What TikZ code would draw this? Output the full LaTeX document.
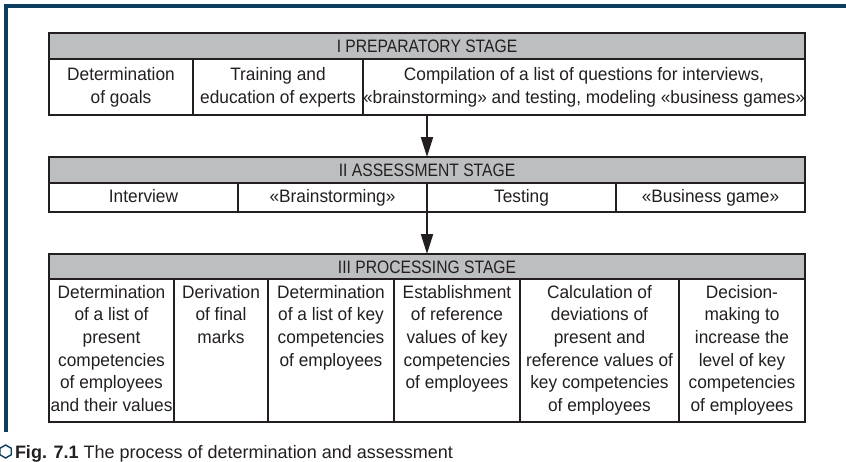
\documentclass[tikz,border=0pt]{standalone}
\usepackage{fontspec}
\setmainfont{Liberation Sans}
\newfontfamily\hdrfont{Liberation Sans}[FakeStretch=0.87]
\newfontfamily\cellfont{Liberation Sans}[FakeStretch=0.96]
\usetikzlibrary{arrows.meta,shapes.geometric}
\definecolor{ink}{HTML}{231F20}
\definecolor{hdr}{HTML}{BCBEC0}
\definecolor{frameblue}{HTML}{0C3C5E}
\newcommand{\tcell}[2]{\parbox[c][131pt][t]{#1}{\centering #2}}
\begin{document}
\begin{tikzpicture}[x=1pt,y=-1pt,
  every node/.style={inner sep=0pt, outer sep=0pt, text=ink, font=\fontsize{18}{22.7}\selectfont},
  box/.style={draw=ink, line width=1.5pt, rectangle, anchor=north west},
  hdrbox/.style={box, fill=hdr, minimum width=756pt, text height=13pt, text depth=0pt, font=\fontsize{18}{22.7}\selectfont\hdrfont},
  multibox/.style={box, fill=white, align=center, font=\fontsize{18}{22.7}\selectfont\cellfont},
  onebox/.style={box, fill=white, minimum width=189pt, minimum height=29pt, text height=13pt, text depth=4pt, font=\fontsize{18}{22.7}\selectfont\cellfont},
  tallbox/.style={box, fill=white, minimum height=143pt, font=\fontsize{18}{22.7}\selectfont\cellfont},
  conn/.style={draw=ink, line width=2pt, -{Triangle[length=20pt,width=12pt]}},
]
\useasboundingbox (0,0) rectangle (846,461);

% frame
\fill[frameblue] (3.5,3.5) rectangle (846,7.5);
\fill[frameblue] (3.5,3.5) rectangle (7.5,432);

% Table I
\node[hdrbox, minimum height=26pt] (h1) at (49,33) {I PREPARATORY STAGE};
\node[multibox, minimum width=144pt, minimum height=56pt] (a1) at (49,59) {Determination\\of goals};
\node[multibox, minimum width=170pt, minimum height=56pt] (a2) at (193,59) {Training and\\education of experts};
\node[multibox, minimum width=442pt, minimum height=56pt] (a3) at (363,59) {Compilation of a list of questions for interviews,\\«brainstorming» and testing, modeling «business games»};

% Table II
\node[hdrbox, minimum height=26pt] (h2) at (49,157) {II ASSESSMENT STAGE};
\node[onebox] (b1) at (49,183) {Interview};
\node[onebox] (b2) at (238,183) {«Brainstorming»};
\node[onebox] (b3) at (427,183) {Testing};
\node[onebox] (b4) at (616,183) {«Business game»};

% Table III
\node[hdrbox, minimum height=25pt] (h3) at (49,254) {III PROCESSING STAGE};
\node[tallbox, minimum width=125pt] (c1) at (49,279) {\tcell{125pt}{Determination\\of a list of\\present\\competencies\\of employees\\and their values}};
\node[tallbox, minimum width=94pt] (c2) at (174,279) {\tcell{94pt}{Derivation\\of final\\marks}};
\node[tallbox, minimum width=126pt] (c3) at (268,279) {\tcell{126pt}{Determination\\of a list of key\\competencies\\of employees}};
\node[tallbox, minimum width=126pt] (c4) at (394,279) {\tcell{126pt}{Establishment\\of reference\\values of key\\competencies\\of employees}};
\node[tallbox, minimum width=159pt] (c5) at (520,279) {\tcell{159pt}{Calculation of\\deviations of\\present and\\reference values of\\key competencies\\of employees}};
\node[tallbox, minimum width=126pt] (c6) at (679,279) {\tcell{126pt}{Decision-\\making to\\increase the\\level of key\\competencies\\of employees}};

% connectors
\draw[conn] (h1.center |- a3.south) -- (h2.north);
\draw[conn] (h2.center |- b2.south) -- (h3.north);

% caption
\node[regular polygon, regular polygon sides=6, shape border rotate=30, draw=frameblue, line width=1.4pt, minimum size=13pt] (hex) at (5.6,451.5) {};
\node[anchor=base west] (cap) at (15,458) {\textbf{Fig. 7.1} The process of determination and assessment};
\end{tikzpicture}
\end{document}
